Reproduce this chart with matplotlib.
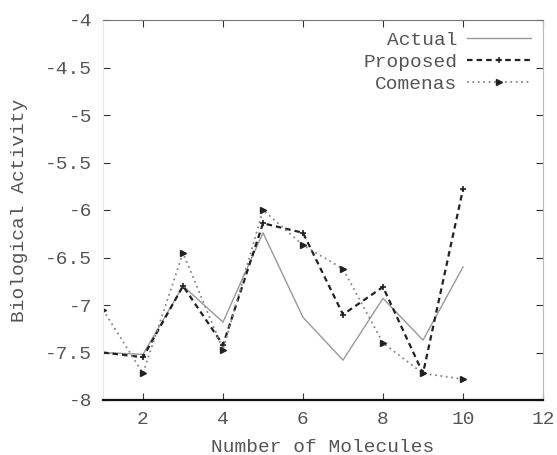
import numpy as np
import matplotlib.pyplot as plt

# data
molecules = [1, 2, 3, 4, 5, 6, 7, 8, 9, 10]
actual = [-7.5, -7.52, -6.8, -7.18, -6.24, -7.13, -7.58, -6.93, -7.37, -6.6]
proposed = [-7.5, -7.55, -6.8, -7.42, -6.14, -6.24, -7.1, -6.81, -7.72, -5.78]
comenas = [-7.05, -7.72, -6.45, -7.47, -6.0, -6.37, -6.62, -7.4, -7.72, -7.78]

xticks = [2, 4, 6, 8, 10, 12]
yticks = [-4, -4.5, -5, -5.5, -6, -6.5, -7, -7.5, -8]
ytick_labels = ['-4', '-4.5', '-5', '-5.5', '-6', '-6.5', '-7', '-7.5', '-8']

plt.rcParams['font.family'] = ['Liberation Mono', 'DejaVu Sans Mono']
txt = '#555555'

fig = plt.figure(figsize=(5.57, 4.55), dpi=100)
ax = fig.add_axes([103 / 557, 55 / 455, 440 / 557, 380 / 455])

ax.plot(molecules, actual, color='#999999', lw=1.0, label='Actual')
ax.plot(molecules, proposed, color='#222222', lw=1.6, ls=(0, (2.5, 1.8)),
        marker='+', ms=5, mew=1.2, label='Proposed')
ax.plot(molecules, comenas, color='#888888', lw=1.3, ls=(0, (1, 2)),
        marker='>', ms=4, mfc='#222222', mec='#222222', label='Comenas')

ax.set_xlim(1, 12)
ax.set_ylim(-8, -4)
ax.set_xticks(xticks)
ax.set_yticks(yticks)
ax.set_yticklabels(ytick_labels)
ax.tick_params(direction='in', length=5, top=True, right=True,
               labelsize=14, colors='#333333', labelcolor=txt, pad=8)

ax.spines['left'].set_color('#e6e6e6')
ax.spines['top'].set_color('#777777')
ax.spines['right'].set_color('#bbbbbb')
ax.spines['bottom'].set_color('#111111')
ax.spines['bottom'].set_linewidth(1.6)

ax.set_xlabel('Number of Molecules', fontsize=14, color=txt, labelpad=8)
ax.set_ylabel('Biological Activity', fontsize=14, color=txt, labelpad=12)

ax.legend(loc='upper right', frameon=False, markerfirst=False, fontsize=14,
          handlelength=3.3, handletextpad=0.5, labelspacing=0.22,
          borderaxespad=0.2, labelcolor=txt, numpoints=1)

fig.savefig('out.png', dpi=100)
